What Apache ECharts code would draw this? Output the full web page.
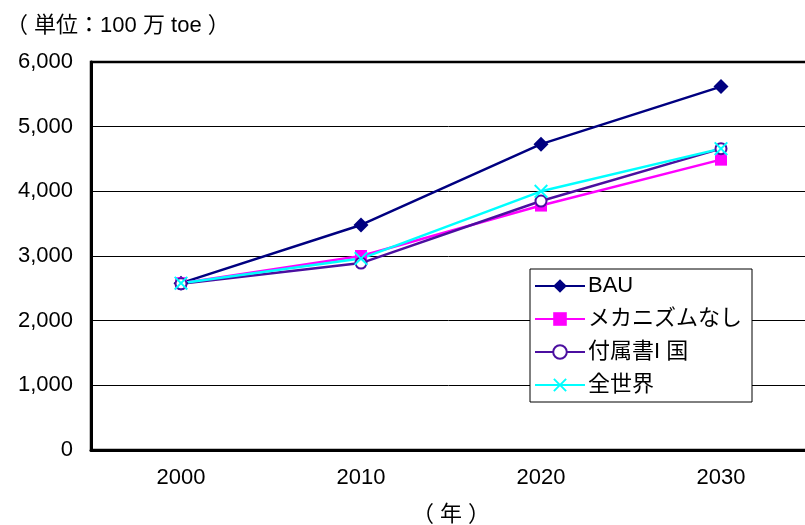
<!DOCTYPE html>
<html>
<head>
<meta charset="utf-8">
<script src="https://cdn.jsdelivr.net/npm/echarts@6/dist/echarts.min.js"></script>
<style>
  html, body { margin: 0; padding: 0; background: #fff; }
  #main { width: 805px; height: 525px; }
</style>
</head>
<body>
<div id="main"></div>
<script>
// data
var years = ['2000', '2010', '2020', '2030'];
var bau = [2580, 3480, 4730, 5620];
var noMechanism = [2580, 3000, 3780, 4490];
var annexI = [2570, 2890, 3850, 4660];
var wholeWorld = [2580, 2960, 4000, 4660];
var yTicks = [0, 1000, 2000, 3000, 4000, 5000, 6000];

var font = '"Liberation Sans", "Noto Sans CJK JP", sans-serif';
var crossPath = 'path://M0,1 L1,0 L5,4 L9,0 L10,1 L6,5 L10,9 L9,10 L5,6 L1,10 L0,9 L4,5 Z';

var dom = document.getElementById('main');
var myChart = echarts.init(dom, null, { renderer: 'canvas' });

var option = {
    backgroundColor: '#fff',
    animation: false,
    textStyle: { fontFamily: font },
    graphic: [{
        type: 'text',
        left: 6,
        top: 15,
        style: { text: '（ 単位：100 万 toe ）', font: '22px ' + font, fill: '#000' }
    }],
    legend: {
        orient: 'vertical',
        left: 530,
        top: 269,
        padding: [6, 10, 6, 4],
        itemGap: 11,
        itemWidth: 50,
        itemHeight: 17,
        backgroundColor: '#fff',
        borderColor: '#000',
        borderWidth: 1,
        textStyle: { fontSize: 22, color: '#000', fontFamily: font, padding: [0, 0, 0, -2] },
        data: ['BAU', 'メカニズムなし', '付属書I 国', '全世界']
    },
    grid: {
        left: 91,
        top: 62,
        right: -6,
        bottom: 75,
        outerBoundsMode: 'none',
        show: true,
        borderColor: '#000',
        borderWidth: 2.5
    },
    xAxis: {
        type: 'category',
        data: years,
        boundaryGap: true,
        name: '（ 年 ）',
        nameLocation: 'middle',
        nameGap: 54,
        nameTextStyle: { fontSize: 22, color: '#000', fontFamily: font },
        axisLine: { lineStyle: { color: '#000', width: 3 } },
        axisTick: { inside: true, length: 7, lineStyle: { color: '#000', width: 1 } },
        axisLabel: { fontSize: 22, color: '#000', margin: 17, fontFamily: font }
    },
    yAxis: {
        type: 'value',
        min: yTicks[0],
        max: yTicks[yTicks.length - 1],
        interval: 1000,
        axisLine: { show: true, lineStyle: { color: '#000', width: 3 } },
        axisTick: { show: false },
        splitLine: { lineStyle: { color: '#000', width: 1 } },
        axisLabel: {
            fontSize: 22,
            color: '#000',
            margin: 18,
            fontFamily: font,
            formatter: function (v) { return v.toLocaleString('en-US'); }
        }
    },
    series: [
        {
            name: 'BAU', type: 'line', data: bau,
            symbol: 'diamond', symbolSize: 15,
            lineStyle: { color: '#000080', width: 2.5 },
            itemStyle: { color: '#000080' }
        },
        {
            name: 'メカニズムなし', type: 'line', data: noMechanism,
            symbol: 'rect', symbolSize: 12,
            lineStyle: { color: '#ff00ff', width: 2.5 },
            itemStyle: { color: '#ff00ff' }
        },
        {
            name: '付属書I 国', type: 'line', data: annexI,
            symbol: 'circle', symbolSize: 11,
            lineStyle: { color: '#4b0fa0', width: 2.5 },
            itemStyle: { color: '#fff', borderColor: '#4b0fa0', borderWidth: 2 }
        },
        {
            name: '全世界', type: 'line', data: wholeWorld,
            symbol: crossPath, symbolSize: 14,
            lineStyle: { color: '#00ffff', width: 2.5 },
            itemStyle: { color: '#00ffff' }
        }
    ]
};

myChart.setOption(option);
</script>
</body>
</html>
